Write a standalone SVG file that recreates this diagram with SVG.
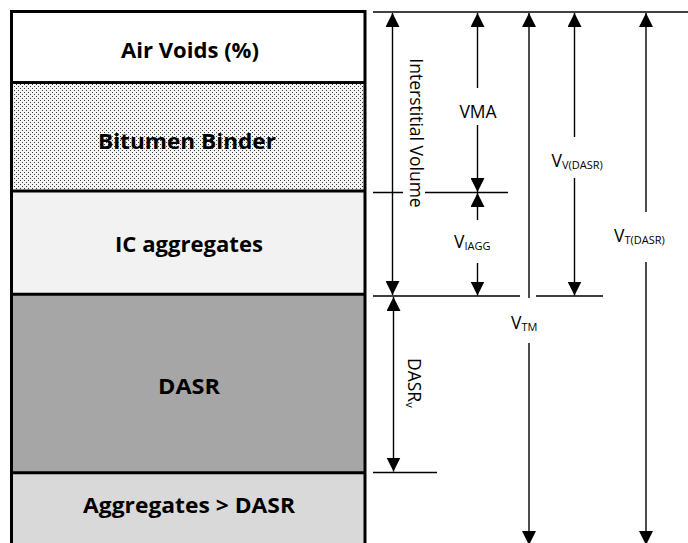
<svg xmlns="http://www.w3.org/2000/svg" width="688" height="543" viewBox="0 0 688 543">
<style>
.lbl{font-family:"Open Sans","Liberation Sans",sans-serif;font-weight:700;font-size:22px;fill:#000;text-anchor:middle}
.ann{font-family:"Open Sans","Liberation Sans",sans-serif;font-size:17.5px;fill:#000}
.sub{font-size:11px}
.div{stroke:#000;stroke-width:3;fill:none}
.ln{stroke:#000;stroke-width:1.4;fill:none}
.ar{stroke:#000;stroke-width:1.4;fill:none}
</style>
<defs>
<pattern id="dots" width="4" height="4" patternUnits="userSpaceOnUse">
<rect width="4" height="4" fill="#f4f4f4"/>
<rect x="0" y="0" width="1" height="1" fill="#3a3a3a"/>
<rect x="2" y="2" width="1" height="1" fill="#3a3a3a"/>
</pattern>
<marker id="ah" viewBox="0 0 14 14" refX="14" refY="7" markerWidth="14" markerHeight="14" markerUnits="userSpaceOnUse" orient="auto-start-reverse">
<path d="M0,0 L14,7 L0,14 z" fill="#000"/>
</marker>
</defs>
<rect width="688" height="543" fill="#fff"/>

<g id="layer-air-voids">
<rect x="11.5" y="11.5" width="353.5" height="71" fill="#fff"/>
<text class="lbl" x="190" y="58" textLength="138" lengthAdjust="spacingAndGlyphs">Air Voids (%)</text>
</g>
<g id="layer-bitumen-binder">
<rect x="11.5" y="82.5" width="353.5" height="108.5" fill="url(#dots)"/>
<text class="lbl" x="187" y="149" textLength="178" lengthAdjust="spacingAndGlyphs">Bitumen Binder</text>
</g>
<g id="layer-ic-aggregates">
<rect x="11.5" y="191" width="353.5" height="103.2" fill="#f2f2f2"/>
<text class="lbl" x="189" y="252" textLength="148" lengthAdjust="spacingAndGlyphs">IC aggregates</text>
</g>
<g id="layer-dasr">
<rect x="11.5" y="294.2" width="353.5" height="178.5" fill="#a6a6a6"/>
<text class="lbl" x="189" y="394" textLength="62" lengthAdjust="spacingAndGlyphs">DASR</text>
</g>
<g id="layer-aggregates-gt-dasr">
<rect x="11.5" y="472.7" width="353.5" height="75" fill="#d9d9d9"/>
<text class="lbl" x="189" y="513" textLength="212" lengthAdjust="spacingAndGlyphs">Aggregates &gt; DASR</text>
</g>
<g id="frame">
<path class="div" d="M11.5,548 V11.5 H365 V548"/>
<path class="div" d="M11.5,82.5 H365 M11.5,191 H365 M11.5,294.2 H365 M11.5,472.7 H365"/>
</g>

<g id="connectors">
<path class="ln" d="M373,12 H688"/>
<path class="ln" d="M373,192.5 H403 M425,192.5 H508"/>
<path class="ln" d="M373,296 H520 M536,296 H603"/>
<path class="ln" d="M373,472.5 H437"/>

<!-- Interstitial Volume -->
<line class="ar" x1="392.5" y1="13" x2="392.5" y2="295" marker-start="url(#ah)" marker-end="url(#ah)"/>
<!-- DASR_v -->
<line class="ar" x1="393.5" y1="297" x2="393.5" y2="471.5" marker-start="url(#ah)" marker-end="url(#ah)"/>
<!-- VMA -->
<line class="ar" x1="477.5" y1="13" x2="477.5" y2="88" marker-start="url(#ah)"/>
<line class="ar" x1="477.5" y1="125" x2="477.5" y2="192" marker-end="url(#ah)"/>
<!-- V_IAGG -->
<line class="ar" x1="477.5" y1="193" x2="477.5" y2="220" marker-start="url(#ah)"/>
<line class="ar" x1="477.5" y1="263" x2="477.5" y2="295.5" marker-end="url(#ah)"/>
<!-- V_TM -->
<line class="ar" x1="529" y1="13" x2="529" y2="298" marker-start="url(#ah)"/>
<line class="ar" x1="529" y1="343" x2="529" y2="545" marker-end="url(#ah)"/>
<!-- V_V(DASR) -->
<line class="ar" x1="574.5" y1="13" x2="574.5" y2="137" marker-start="url(#ah)"/>
<line class="ar" x1="574.5" y1="178" x2="574.5" y2="295.5" marker-end="url(#ah)"/>
<!-- V_T(DASR) -->
<line class="ar" x1="646" y1="13" x2="646" y2="212" marker-start="url(#ah)"/>
<line class="ar" x1="646" y1="262" x2="646" y2="545" marker-end="url(#ah)"/>
</g>

<g id="labels">
<text class="ann" transform="translate(410,133) rotate(90)" text-anchor="middle">Interstitial Volume</text>
<text class="ann" transform="translate(408,358) rotate(90)">DASR<tspan class="sub" dy="2">v</tspan></text>
<text class="ann" x="478" y="117.5" text-anchor="middle">VMA</text>
<text class="ann" x="454" y="248">V<tspan class="sub" dy="2">IAGG</tspan></text>
<text class="ann" x="511" y="329">V<tspan class="sub" dy="2">TM</tspan></text>
<text class="ann" x="551.5" y="166.5">V<tspan class="sub" dy="2">V(DASR)</tspan></text>
<text class="ann" x="614" y="241.5">V<tspan class="sub" dy="2">T(DASR)</tspan></text>
</g>
</svg>
